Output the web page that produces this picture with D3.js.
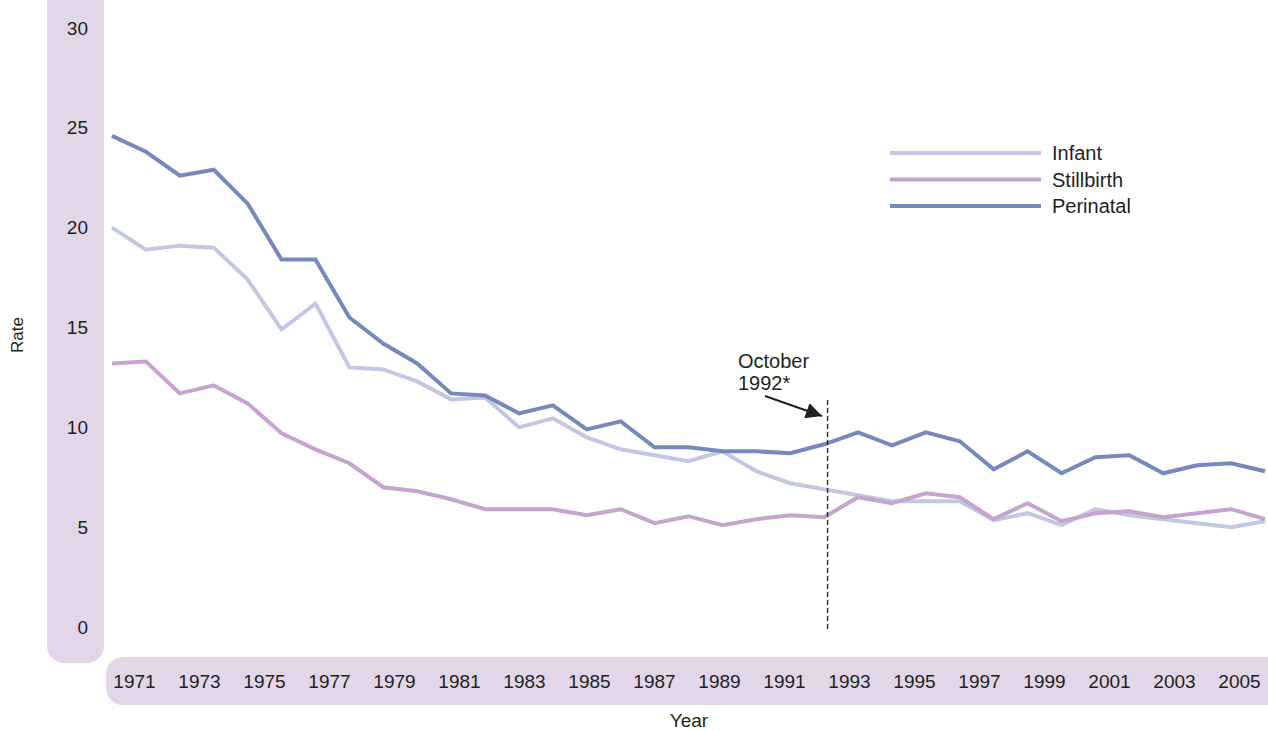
<!DOCTYPE html>
<html><head><meta charset="utf-8">
<script src="https://cdn.jsdelivr.net/npm/d3@7"></script>
<style>body{margin:0;background:#fff}svg{display:block}text{font-family:"Liberation Sans",Arial,sans-serif;fill:#231f20}</style>
</head><body><svg id="c" width="1268" height="731"></svg>
<script>
const years = d3.range(1971, 2006);
const infant = [20.0,18.9,19.1,19.0,17.4,14.9,16.2,13.0,12.9,12.3,11.4,11.5,10.0,10.45,9.5,8.9,8.6,8.3,8.8,7.8,7.2,6.9,6.6,6.3,6.3,6.3,5.35,5.7,5.1,5.9,5.6,5.4,5.2,5.0,5.3];
const stillbirth = [13.2,13.3,11.7,12.1,11.2,9.7,8.9,8.2,7.0,6.8,6.4,5.9,5.9,5.9,5.6,5.9,5.2,5.55,5.1,5.4,5.6,5.5,6.5,6.2,6.7,6.5,5.4,6.2,5.3,5.7,5.8,5.5,5.7,5.9,5.4];
const perinatal = [24.6,23.8,22.6,22.9,21.2,18.4,18.4,15.5,14.2,13.2,11.7,11.6,10.7,11.1,9.9,10.3,9.0,9.0,8.8,8.8,8.7,9.15,9.75,9.1,9.75,9.3,7.9,8.8,7.7,8.5,8.6,7.7,8.1,8.2,7.8];
const yTicks = [0,5,10,15,20,25,30];
const xLabels = ["1971","1973","1975","1977","1979","1981","1983","1985","1987","1989","1991","1993","1995","1997","1999","2001","2003","2005"];
const seriesNames = ["Infant","Stillbirth","Perinatal"];
const seriesColors = ["#c3c8e2","#c6a4cd","#7689bf"];
const seriesData = [infant, stillbirth, perinatal];
const markerYear = 1992.1;

const svg = d3.select("#c");
const x = d3.scaleLinear().domain([1971, 2005]).range([112, 1265]);
const y = d3.scaleLinear().domain([0, 30]).range([627, 28]);
const xl = d3.scalePoint().domain(xLabels).range([134, 1239]);
const FF = "'Liberation Sans',Arial,sans-serif";

// bands
svg.append("rect").attr("x",47).attr("y",-20).attr("width",57).attr("height",683).attr("rx",17).attr("fill","#e2d6e8");
svg.append("rect").attr("x",106).attr("y",657).attr("width",1180).attr("height",48).attr("rx",17).attr("fill","#e2d6e8");

// y axis
const ya = svg.append("g").attr("transform","translate(88,0)")
  .call(d3.axisLeft(y).tickValues(yTicks).tickSize(0).tickPadding(0));
ya.select(".domain").remove();
ya.selectAll("text").style("font-size","19px").attr("fill","#231f20").style("font-family",FF);

// x axis labels
const xa = svg.append("g").attr("transform","translate(0,681)")
  .call(d3.axisBottom(xl).tickSize(0).tickPadding(0));
xa.select(".domain").remove();
xa.selectAll("text").attr("dy","0.35em").attr("y",0).style("font-size","19px").attr("fill","#231f20").style("font-family",FF);

// axis titles
svg.append("text").attr("transform","translate(23,335) rotate(-90)").attr("text-anchor","middle").style("font-size","17px").text("Rate");
svg.append("text").attr("x",689).attr("y",727).attr("text-anchor","middle").style("font-size","19px").text("Year");

// lines
const line = d3.line().x((d,i)=>x(years[i])).y(d=>y(d));
seriesData.forEach((s,k)=>{
  svg.append("path").datum(s).attr("d",line).attr("fill","none")
    .attr("stroke",seriesColors[k]).attr("stroke-width",4).attr("stroke-linejoin","miter");
});

// marker
svg.append("line").attr("x1",x(markerYear)).attr("x2",x(markerYear)).attr("y1",400).attr("y2",y(0)+2)
  .attr("stroke","#231f20").attr("stroke-width",1.3).attr("stroke-dasharray","5,3");
svg.append("defs").append("marker").attr("id","ah").attr("viewBox","0 0 10 10").attr("refX",10).attr("refY",5)
  .attr("markerWidth",20).attr("markerHeight",16).attr("markerUnits","userSpaceOnUse").attr("orient","auto")
  .append("path").attr("d","M0,0L10,5L0,10z").attr("fill","#231f20");
svg.append("line").attr("x1",765).attr("y1",396).attr("x2",822).attr("y2",416)
  .attr("stroke","#231f20").attr("stroke-width",2).attr("marker-end","url(#ah)");
svg.append("text").attr("x",738).attr("y",368).style("font-size","20px").text("October");
svg.append("text").attr("x",738).attr("y",390).style("font-size","20px").text("1992*");

// legend
seriesNames.forEach((n,k)=>{
  const yy = 153 + k*26.5;
  svg.append("line").attr("x1",890).attr("x2",1041).attr("y1",yy).attr("y2",yy).attr("stroke",seriesColors[k]).attr("stroke-width",4);
  svg.append("text").attr("x",1052).attr("y",yy+7).style("font-size","20px").text(n);
});
</script></body></html>
